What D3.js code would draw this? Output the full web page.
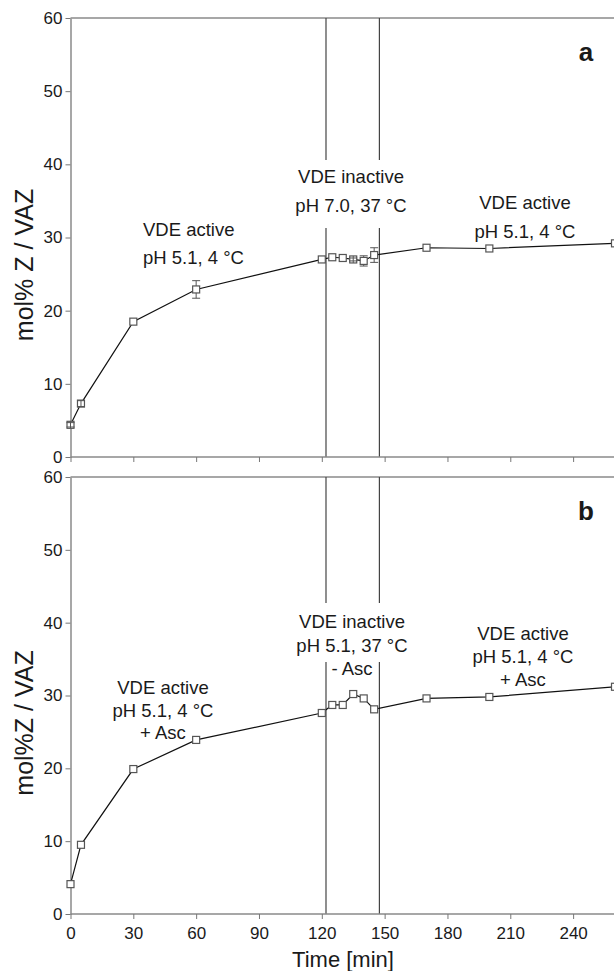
<!DOCTYPE html>
<meta charset="utf-8">
<style>
body { margin: 0; background: #fff; }
text { font-family: "Liberation Sans", Arial, sans-serif; fill: #1a1a1a; }
</style>
<body>
<script src="https://cdn.jsdelivr.net/npm/d3@7"></script>
<script>
// sampling times (min)
var times = [0, 5, 30, 60, 120, 125, 130, 135, 140, 145, 170, 200, 260];
// panel a: mol% Z / VAZ and error (+/-)
var valuesA = [4.4, 7.3, 18.5, 22.9, 27.0, 27.3, 27.2, 27.0, 26.8, 27.6, 28.6, 28.5, 29.2];
var errorsA = [0.3, 0.4, 0, 1.2, 0, 0, 0, 0.2, 0.7, 1.0, 0, 0, 0];
// panel b
var valuesB = [4.1, 9.5, 19.9, 23.9, 27.6, 28.7, 28.7, 30.2, 29.6, 28.1, 29.6, 29.8, 31.2];
// phase boundaries (min)
var phaseLines = [122, 147.5];
var xTicks = [0, 30, 60, 90, 120, 150, 180, 210, 240];
var yTicks = [0, 10, 20, 30, 40, 50, 60];

var width = 614,
	height = 971;

var svg = d3.select("body").append("svg")
	.attr("width", width)
	.attr("height", height);

var x = d3.scaleLinear().domain([0, 260]).range([70.5, 615]);

var panels = [
	{ key: "a", vals: valuesA, errs: errorsA, top: 18, bottom: 457,
	  title: "mol% Z / VAZ", titleY: 265, gap: [160, 228],
	  labels: [
		{ x: 143, anchor: "start", lines: ["VDE active", "pH 5.1, 4 \u00B0C"], y: 236, dy: 28 },
		{ x: 351, anchor: "middle", lines: ["VDE inactive", "pH 7.0, 37 \u00B0C"], y: 183, dy: 29 },
		{ x: 525, anchor: "middle", lines: ["VDE active", "pH 5.1, 4 \u00B0C"], y: 209, dy: 29 }
	  ] },
	{ key: "b", vals: valuesB, errs: null, top: 477, bottom: 914,
	  title: "mol%Z / VAZ", titleY: 723, gap: [603, 662],
	  labels: [
		{ x: 163, anchor: "middle", lines: ["VDE active", "pH 5.1, 4 \u00B0C", "+ Asc"], y: 694, dy: 22.5 },
		{ x: 352, anchor: "middle", lines: ["VDE inactive", "pH 5.1, 37 \u00B0C", "- Asc"], y: 628, dy: 23.5 },
		{ x: 523, anchor: "middle", lines: ["VDE active", "pH 5.1, 4 \u00B0C", "+ Asc"], y: 640, dy: 23 }
	  ] }
];

panels.forEach(function(p) {
	var y = d3.scaleLinear().domain([0, 60]).range([p.bottom, p.top]);
	var g = svg.append("g");

	// frame top line
	g.append("line")
		.attr("x1", x(0)).attr("x2", width)
		.attr("y1", p.top).attr("y2", p.top)
		.style("stroke", "#8a8a8a").style("stroke-width", 1.5);

	// phase boundary lines, broken around the middle label
	phaseLines.forEach(function(t) {
		[[p.top, p.gap[0]], [p.gap[1], p.bottom]].forEach(function(s) {
			g.append("line")
				.attr("x1", x(t)).attr("x2", x(t))
				.attr("y1", s[0]).attr("y2", s[1])
				.style("stroke", "#444").style("stroke-width", 1.2);
		});
	});

	// axes
	var yAxis = d3.axisLeft(y).tickValues(yTicks).tickSize(5).tickSizeOuter(0).tickPadding(3);
	var ya = g.append("g").attr("transform", "translate(" + x(0) + ",0)").call(yAxis);
	var xAxis = d3.axisBottom(x).tickValues(xTicks).tickSize(5).tickSizeOuter(0).tickPadding(8);
	if (p.key == "a") xAxis.tickFormat("");
	var xa = g.append("g").attr("transform", "translate(0," + p.bottom + ")").call(xAxis);
	[ya, xa].forEach(function(ax) {
		ax.select(".domain").style("stroke", "#8a8a8a").style("stroke-width", 1.5);
		ax.selectAll(".tick line").style("stroke", "#777").style("stroke-width", 1);
		ax.selectAll(".tick text").style("font-size", "17px").style("fill", "#1a1a1a");
	});
	xa.select(".domain").attr("d", "M" + x(0) + ",0H" + width);

	// y title
	g.append("text")
		.attr("transform", "translate(33," + p.titleY + ")rotate(-90)")
		.attr("text-anchor", "middle")
		.style("font-size", "25px")
		.text(p.title);

	// panel letter
	g.append("text")
		.attr("x", 586).attr("y", p.top + 43)
		.attr("text-anchor", "middle")
		.style("font-size", "26px").style("font-weight", "bold")
		.text(p.key);

	// phase labels
	p.labels.forEach(function(l) {
		var t = g.append("text")
			.attr("text-anchor", l.anchor)
			.style("font-size", "18.5px");
		l.lines.forEach(function(s, i) {
			t.append("tspan").attr("x", l.x).attr("y", l.y + i * l.dy).text(s);
		});
	});

	// data line
	var pts = times.map(function(t, i) { return [t, p.vals[i]]; });
	var line = d3.line().x(function(d) { return x(d[0]); }).y(function(d) { return y(d[1]); });
	g.append("path")
		.datum(pts)
		.attr("d", line)
		.style("fill", "none")
		.style("stroke", "#111")
		.style("stroke-width", 1.2);

	var s = 7;
	g.selectAll("rect.pt")
		.data(pts)
		.enter().append("rect")
		.attr("class", "pt")
		.attr("x", function(d) { return x(d[0]) - s / 2; })
		.attr("y", function(d) { return y(d[1]) - s / 2; })
		.attr("width", s).attr("height", s)
		.style("fill", "#fff")
		.style("stroke", "#555")
		.style("stroke-width", 1.2);

	// error bars
	if (p.errs) {
		pts.forEach(function(d, i) {
			var e = p.errs[i];
			if (!e) return;
			var cx = x(d[0]), hi = y(d[1] + e), lo = y(d[1] - e), c = y(d[1]);
			var eg = g.append("g").style("stroke", "#555").style("stroke-width", 1);
			if (c - hi > s / 2) {
				eg.append("line").attr("x1", cx).attr("x2", cx).attr("y1", hi).attr("y2", c - s / 2);
				eg.append("line").attr("x1", cx).attr("x2", cx).attr("y1", c + s / 2).attr("y2", lo);
			} else {
				eg.append("line").attr("x1", cx).attr("x2", cx).attr("y1", c - s / 2).attr("y2", c + s / 2);
			}
			[hi, lo].forEach(function(yy) {
				eg.append("line").attr("x1", cx - 4).attr("x2", cx + 4).attr("y1", yy).attr("y2", yy);
			});
		});
	}
});

// x title
svg.append("text")
	.attr("x", 343).attr("y", 967)
	.attr("text-anchor", "middle")
	.style("font-size", "22px")
	.text("Time [min]");
</script>
</body>
